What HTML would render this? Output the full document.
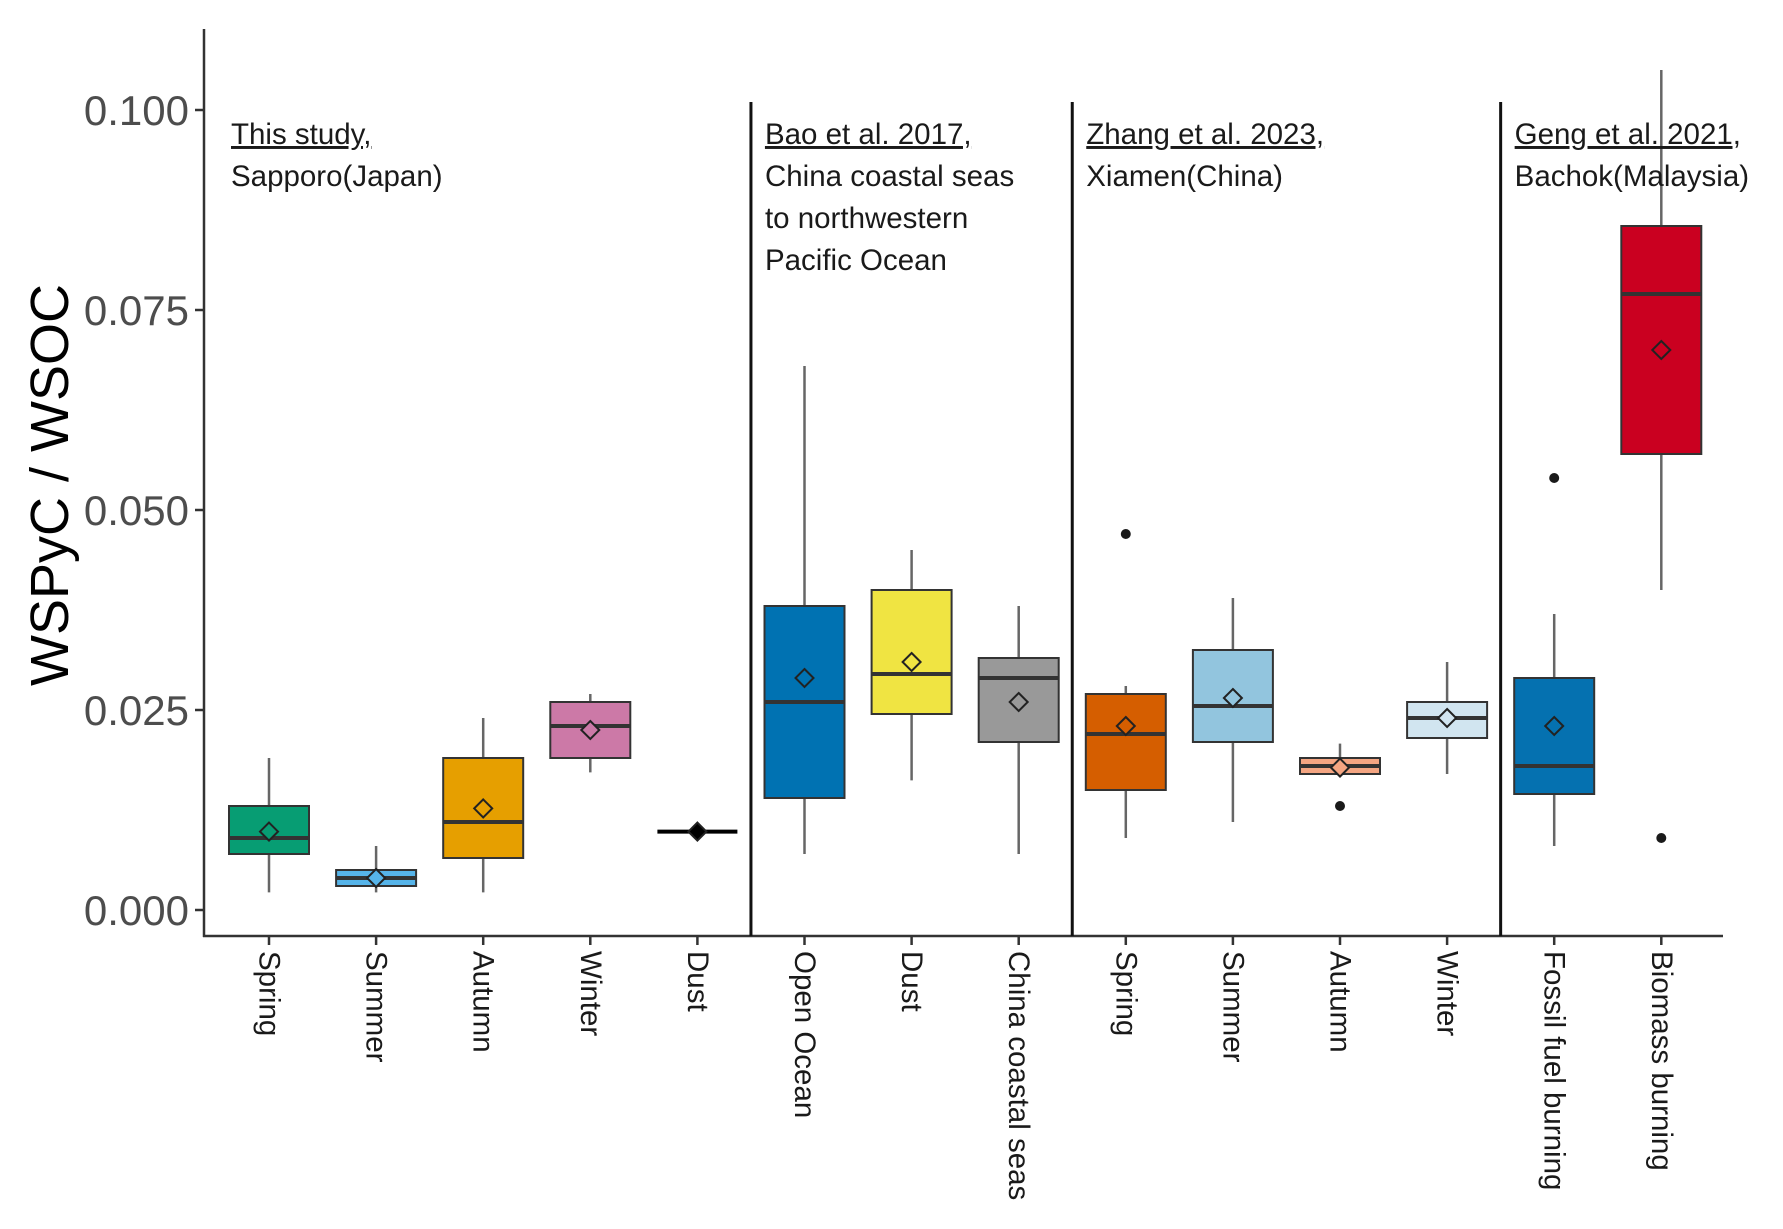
<!DOCTYPE html>
<html><head><meta charset="utf-8"><style>
html,body{margin:0;padding:0;background:#fff;}
svg{display:block;font-family:"Liberation Sans",sans-serif;}
</style></head><body>
<svg id="chart" width="1783" height="1229" viewBox="0 0 1783 1229" xmlns="http://www.w3.org/2000/svg">
<g id="plot"></g>
</svg>
<script>
const categories = ["Spring","Summer","Autumn","Winter","Dust","Open Ocean","Dust","China coastal seas","Spring","Summer","Autumn","Winter","Fossil fuel burning","Biomass burning"];
const whiskerLow  = [0.0022,0.0022,0.0022,0.0172,0.0098,0.0070,0.0162,0.0070,0.0090,0.0110,0.0170,0.0170,0.0080,0.0400];
const q1Values    = [0.0070,0.0030,0.0065,0.0190,0.0098,0.0140,0.0245,0.0210,0.0150,0.0210,0.0170,0.0215,0.0145,0.0570];
const medianValues= [0.0090,0.0040,0.0110,0.0230,0.0098,0.0260,0.0295,0.0290,0.0220,0.0255,0.0180,0.0240,0.0180,0.0770];
const q3Values    = [0.0130,0.0050,0.0190,0.0260,0.0098,0.0380,0.0400,0.0315,0.0270,0.0325,0.0190,0.0260,0.0290,0.0855];
const whiskerHigh = [0.0190,0.0080,0.0240,0.0270,0.0098,0.0680,0.0450,0.0380,0.0280,0.0390,0.0208,0.0310,0.0370,0.1050];
const meanValues  = [0.0098,0.0040,0.0127,0.0225,0.0098,0.0290,0.0310,0.0260,0.0230,0.0265,0.0178,0.0240,0.0230,0.0700];
const outlierIndex = [8,10,12,13];
const outlierValues = [0.0470,0.0130,0.0540,0.0090];
const boxColors = ["#079d73","#56b4e9","#e69f00","#cc79a7","#000000","#0072b2","#f0e442","#999999","#d55e00","#92c5de","#f4a582","#d1e5f0","#0571b0","#ca0020"];
const yTicks = [0,0.025,0.05,0.075,0.1];
const yTickLabels = ["0.000","0.025","0.050","0.075","0.100"];
const separatorsAfter = [4,7,11];
const groupLabels = [
  {first:0, lines:["This study,","Sapporo(Japan)"]},
  {first:5, lines:["Bao et al. 2017,","China coastal seas","to northwestern","Pacific Ocean"]},
  {first:8, lines:["Zhang et al. 2023,","Xiamen(China)"]},
  {first:12, lines:["Geng et al. 2021,","Bachok(Malaysia)"]}
];

const NS="http://www.w3.org/2000/svg";
const g=document.getElementById('plot');
const X0=269, DX=107.1, BW=80;
const Y0=910, PX=8000, AXY=936;
const xs=i=>X0+i*DX;
const ys=v=>Y0-v*PX;
function mk(tag,attrs,parent){const e=document.createElementNS(NS,tag);for(const k in attrs)e.setAttribute(k,attrs[k]);(parent||g).appendChild(e);return e;}

let ax=mk('line',{x1:204,y1:29,x2:204,y2:AXY+1,stroke:'#333','stroke-width':2.5});


let bx=mk('line',{x1:203,y1:AXY,x2:1723,y2:AXY,stroke:'#333','stroke-width':2.5});



yTicks.forEach((v,i)=>{
  const t=mk('line',{x1:195,y1:ys(v),x2:204,y2:ys(v),stroke:'#333','stroke-width':2.5});
  
  
  const l=mk('text',{x:189,y:ys(v)+15,'text-anchor':'end','font-size':42,fill:'#4d4d4d'});
  
  
  l.textContent=yTickLabels[i];
});
const yt=mk('text',{x:0,y:0,transform:'translate(68,485) rotate(-90)','text-anchor':'middle','font-size':54,fill:'#000'});


yt.textContent='WSPyC / WSOC';

separatorsAfter.forEach(i=>{
  const x=(xs(i)+xs(i+1))/2;
  const s=mk('line',{x1:x,y1:102,x2:x,y2:AXY,stroke:'#111','stroke-width':3});
  
  
});

categories.forEach((c,i)=>{
  const x=xs(i);
  const grp=mk('g',{});
  
  
  const tk=mk('line',{x1:x,y1:AXY,x2:x,y2:AXY+9,stroke:'#333','stroke-width':2.5},grp);
  
  
  const w=mk('line',{x1:x,y1:ys(whiskerHigh[i]),x2:x,y2:ys(whiskerLow[i]),stroke:'#666','stroke-width':2.5},grp);
  
  
  const flat = q3Values[i]===q1Values[i];
  if(!flat){
    const r=mk('rect',{x:x-BW/2,y:ys(q3Values[i]),width:BW,height:ys(q1Values[i])-ys(q3Values[i]),fill:boxColors[i],stroke:'#333','stroke-width':2},grp);
    
    
  }
  const m=mk('line',{x1:x-BW/2,y1:ys(medianValues[i]),x2:x+BW/2,y2:ys(medianValues[i]),stroke:flat?'#000':'#333','stroke-width':4},grp);
  
  
  const my=ys(meanValues[i]), d=9;
  const dm=mk('polygon',{points:`${x},${my-d} ${x+d},${my} ${x},${my+d} ${x-d},${my}`,fill:boxColors[i],stroke:'#222','stroke-width':2},grp);
  
  
  const lb=mk('text',{x:0,y:0,transform:`translate(${x},951) rotate(90)`,'dominant-baseline':'central','font-size':29.5,fill:'#1a1a1a'},grp);
  
  
  lb.textContent=c;
});

outlierIndex.forEach((idx,k)=>{
  const o=mk('circle',{cx:xs(idx),cy:ys(outlierValues[k]),r:5,fill:'#1a1a1a'});
  
  
});

groupLabels.forEach(gl=>{
  const x = gl.first===0 ? 231 : (xs(gl.first-1)+xs(gl.first))/2+14;
  gl.lines.forEach((ln,j)=>{
    const t=mk('text',{x:x,y:144+j*42,'font-size':29.5,fill:'#1a1a1a','text-decoration':j===0?'underline':'none'});
    
    
    t.textContent=ln;
  });
});
</script>
</body></html>
